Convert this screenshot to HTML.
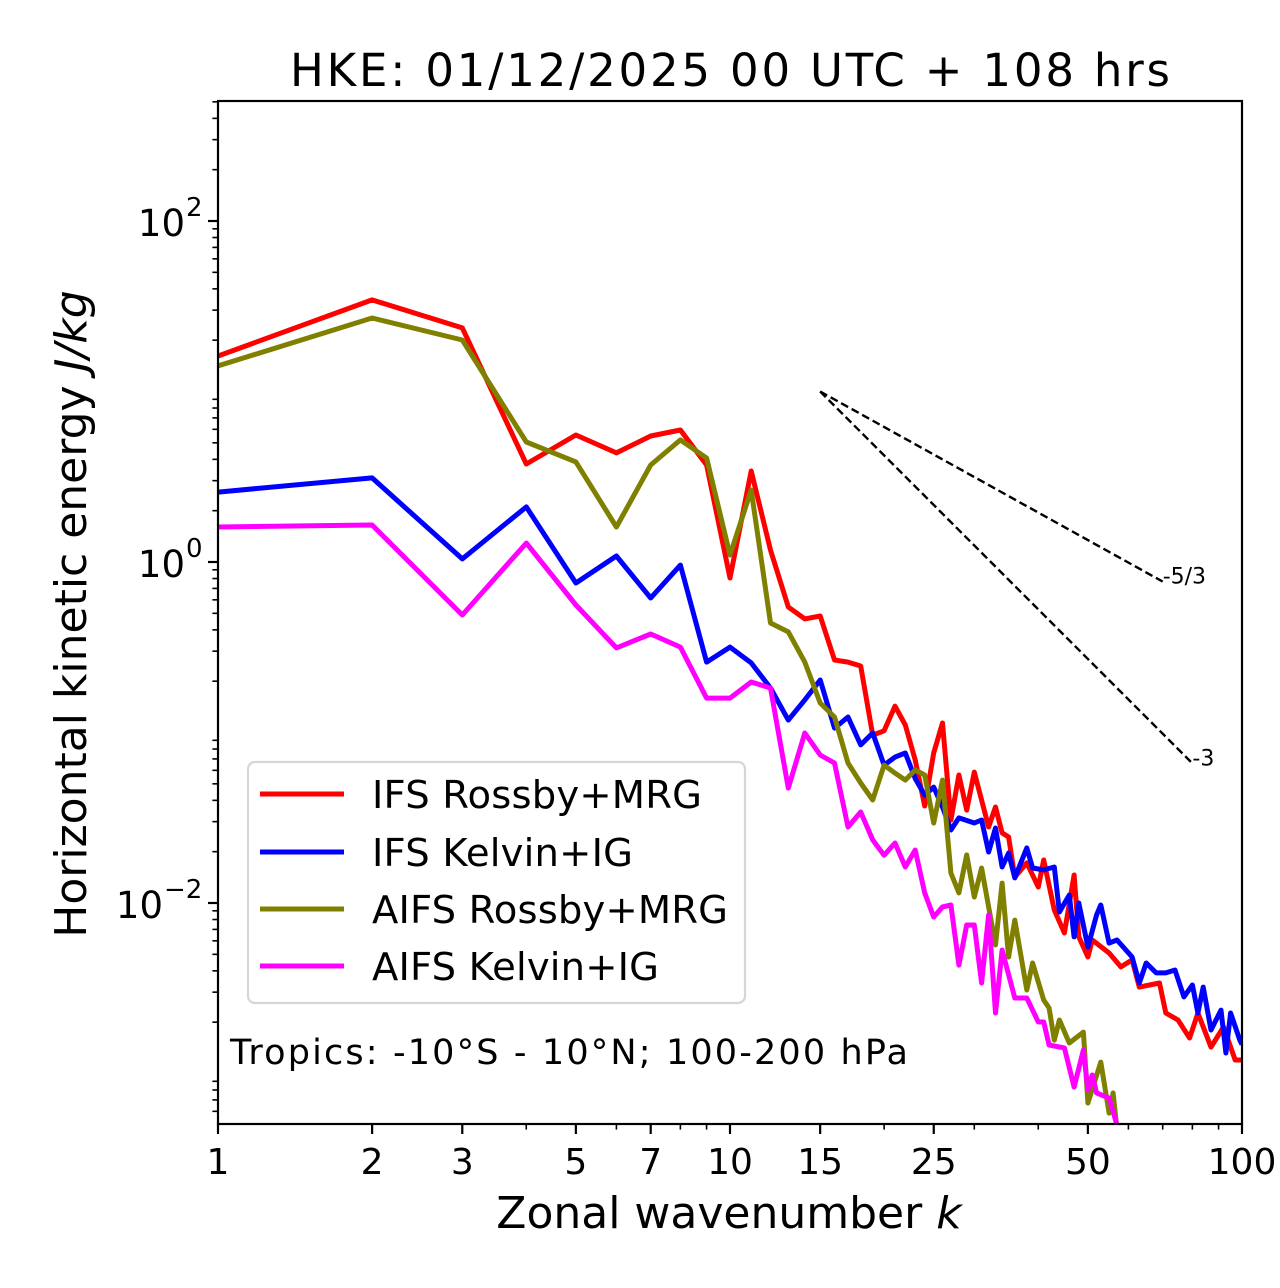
<!DOCTYPE html>
<html><head><meta charset="utf-8"><style>
html,body{margin:0;padding:0;background:#fff;}
svg{display:block;font-family:"DejaVu Sans","Liberation Sans",sans-serif;}
</style></head><body>
<svg id="chart" width="1280" height="1288" viewBox="0 0 1280 1288" xmlns="http://www.w3.org/2000/svg">
<rect width="1280" height="1288" fill="#fff"/>
<text x="730" y="86" font-size="45" text-anchor="middle" textLength="880">HKE: 01/12/2025 00 UTC + 108 hrs</text>
<g id="series"></g>
<g id="axes"></g>
<text x="729" y="1228" font-size="44" text-anchor="middle">Zonal wavenumber <tspan font-style="italic">k</tspan></text>
<text transform="translate(86,614) rotate(-90)" font-size="44" text-anchor="middle">Horizontal kinetic energy <tspan font-style="italic">J/kg</tspan></text>
<g>
<rect x="248" y="762" width="497" height="241" rx="7" fill="#fff" fill-opacity="0.8" stroke="#d6d6d6" stroke-width="2.2"/>
<line x1="260" y1="794" x2="344" y2="794" stroke="#ff0000" stroke-width="5"/>
<text x="372" y="808" font-size="38.5" textLength="330">IFS Rossby+MRG</text>
<line x1="260" y1="852" x2="344" y2="852" stroke="#0000ff" stroke-width="5"/>
<text x="372" y="866" font-size="38.5" textLength="261">IFS Kelvin+IG</text>
<line x1="260" y1="909" x2="344" y2="909" stroke="#808000" stroke-width="5"/>
<text x="372" y="923" font-size="38.5" textLength="356">AIFS Rossby+MRG</text>
<line x1="260" y1="966" x2="344" y2="966" stroke="#ff00ff" stroke-width="5"/>
<text x="372" y="980" font-size="38.5" textLength="287">AIFS Kelvin+IG</text>
</g>
<text x="230" y="1064" font-size="35" textLength="678">Tropics: -10°S - 10°N; 100-200 hPa</text>
</svg>
<script>
// ---- data (log10 of energy in J/kg) ----
const ifsRossbyK = [1,2,3,4,5,6,7,8,9,10,11,12,13,14,15,16,17,18,19,20,21,22,23,24,25,26,27,28,29,30,32,33,34,35,36,38,40,41,43,45,47,48,50,51,55,58,61,63,69,71,75,79,82,87,92,97,100];
const ifsRossbyLogE = [1.208,1.537,1.373,0.575,0.745,0.64,0.739,0.774,0.569,-0.094,0.534,0.07,-0.264,-0.334,-0.317,-0.575,-0.587,-0.61,-1.015,-0.99,-0.845,-0.956,-1.161,-1.431,-1.12,-0.944,-1.513,-1.249,-1.455,-1.232,-1.554,-1.437,-1.589,-1.613,-1.848,-1.765,-1.906,-1.748,-2.041,-2.176,-1.836,-2.199,-2.317,-2.217,-2.293,-2.375,-2.334,-2.493,-2.469,-2.645,-2.686,-2.792,-2.645,-2.845,-2.727,-2.921,-2.921];
const ifsKelvinK = [1,2,3,4,5,6,7,8,9,10,11,12,13,14,15,16,17,18,19,20,21,22,23,24,25,26,27,28,30,31,32,33,34,35,36,38,39,41,43,44,46,47,48,50,52,53,55,57,61,63,65,68,71,74,77,80,82,84,87,91,93,95,99,100];
const ifsKelvinLogE = [0.41,0.493,0.018,0.323,-0.123,0.035,-0.211,-0.018,-0.587,-0.499,-0.592,-0.739,-0.927,-0.809,-0.692,-0.974,-0.909,-1.073,-1.003,-1.191,-1.144,-1.12,-1.27,-1.367,-1.32,-1.437,-1.572,-1.501,-1.531,-1.513,-1.701,-1.56,-1.789,-1.707,-1.853,-1.677,-1.795,-1.806,-1.789,-2.053,-1.953,-2.199,-2.0,-2.258,-2.07,-2.012,-2.235,-2.217,-2.317,-2.469,-2.352,-2.41,-2.41,-2.393,-2.551,-2.481,-2.645,-2.493,-2.745,-2.628,-2.88,-2.645,-2.804,-2.83];
const aifsRossbyK = [1,2,3,4,5,6,7,8,9,10,11,12,13,14,15,16,17,18,19,20,21,22,23,24,25,26,27,28,29,30,31,33,34,35,36,38,39,41,42,43,44,46,49,50,53,55,56,57];
const aifsRossbyLogE = [1.15,1.431,1.302,0.704,0.587,0.205,0.569,0.716,0.61,0.041,0.422,-0.358,-0.41,-0.587,-0.827,-0.909,-1.179,-1.296,-1.396,-1.191,-1.238,-1.279,-1.22,-1.249,-1.531,-1.279,-1.824,-1.941,-1.718,-1.965,-1.795,-2.246,-1.883,-2.317,-2.1,-2.51,-2.352,-2.569,-2.616,-2.804,-2.686,-2.821,-2.757,-3.173,-2.933,-3.232,-3.114,-3.33];
const aifsKelvinK = [1,2,3,4,5,6,7,8,9,10,11,12,13,14,15,16,17,18,19,20,21,22,23,24,25,26,27,28,29,30,31,32,33,34,36,38,40,41,42,45,47,49,50,51,52,55,57];
const aifsKelvinLogE = [0.205,0.217,-0.311,0.111,-0.252,-0.504,-0.422,-0.499,-0.798,-0.798,-0.704,-0.739,-1.326,-1.003,-1.132,-1.179,-1.554,-1.466,-1.63,-1.72,-1.648,-1.789,-1.689,-1.941,-2.082,-2.023,-2.012,-2.364,-2.129,-2.129,-2.469,-2.07,-2.645,-2.276,-2.557,-2.557,-2.698,-2.698,-2.833,-2.85,-3.079,-2.862,-3.097,-3.009,-3.114,-3.144,-3.302];
// reference slopes
const refSlopes = [-5/3, -3];
const refSlopeLabels = ["-5/3", "-3"];
const refStartK = 15;
const refStartE = 10;
const refEndK = [70, 80];
// axis ticks
const xMajorTicks = [1,2,3,5,7,10,15,25,50,100];
const xMajorLabels = ["1","2","3","5","7","10","15","25","50","100"];
const xMinorTicks = [4,6,8,9,20,30,40,60,70,80,90];
const yMajorExp = [2,0,-2];

const L=218,R=1242,T=101,B=1124;
const xMin=0, xMax=2; // log10 k
const yTopLog=2+(221-T)/170.5, yBotLog=-2-(B-903)/170.5;
function xs(k){return L+(Math.log10(k)-xMin)/(xMax-xMin)*(R-L);}
function ysLog(l){return T+(yTopLog-l)/(yTopLog-yBotLog)*(B-T);}
function ys(v){return ysLog(Math.log10(v));}
const NS="http://www.w3.org/2000/svg";
function mk(tag,attrs,parent){const e=document.createElementNS(NS,tag);for(const a in attrs)e.setAttribute(a,attrs[a]);parent.appendChild(e);return e;}
const svg=document.getElementById('chart');
const sg=document.getElementById('series');
const ag=document.getElementById('axes');
const defs=mk('defs',{},svg);
const cp=mk('clipPath',{id:'plotclip'},defs);
mk('rect',{x:L,y:T,width:R-L,height:B-T},cp);
sg.setAttribute('clip-path','url(#plotclip)');

const series=[
 {k:ifsRossbyK,v:ifsRossbyLogE,c:'#ff0000',n:'line-ifs-rossby-mrg'},
 {k:ifsKelvinK,v:ifsKelvinLogE,c:'#0000ff',n:'line-ifs-kelvin-ig'},
 {k:aifsRossbyK,v:aifsRossbyLogE,c:'#808000',n:'line-aifs-rossby-mrg'},
 {k:aifsKelvinK,v:aifsKelvinLogE,c:'#ff00ff',n:'line-aifs-kelvin-ig'}
];
series.forEach(s=>{
  const pts=s.k.map((k,i)=>xs(k).toFixed(1)+','+ysLog(s.v[i]).toFixed(1)).join(' ');
  const p=mk('polyline',{points:pts,fill:'none',stroke:s.c,'stroke-width':5,'stroke-linejoin':'round'},sg);
  
  
});
refSlopes.forEach((sl,i)=>{
  const k2=refEndK[i];
  const e2=refStartE*Math.pow(k2/refStartK,sl);
  const ln=mk('line',{x1:xs(refStartK),y1:ys(refStartE),x2:xs(k2),y2:ys(e2),stroke:'#000','stroke-width':2.4,'stroke-dasharray':'8,4'},svg);
  
  
  const t=mk('text',{x:xs(k2),y:ys(e2)+2,'font-size':22},svg);
  t.textContent=refSlopeLabels[i];
  
  
});
const fr=mk('rect',{x:L,y:T,width:R-L,height:B-T,fill:'none',stroke:'#000','stroke-width':2.2},ag);


xMajorTicks.forEach((k,i)=>{
  const x=xs(k);
  mk('line',{x1:x,y1:B,x2:x,y2:B+10,stroke:'#000','stroke-width':2.2},ag);
  const t=mk('text',{x:x,y:B+50,'font-size':36,'text-anchor':'middle'},ag);
  t.textContent=xMajorLabels[i];
  
  
});
xMinorTicks.forEach(k=>{const x=xs(k);mk('line',{x1:x,y1:B,x2:x,y2:B+5.6,stroke:'#000','stroke-width':1.6},ag);});
yMajorExp.forEach(e=>{
  const y=ysLog(e);
  const shift=e<0?22:0;
  mk('line',{x1:L-10,y1:y,x2:L,y2:y,stroke:'#000','stroke-width':2.2},ag);
  const t=mk('text',{x:L-33-shift,y:y+15,'font-size':37,'text-anchor':'end'},ag);
  t.textContent='10';
  
  
  const s=mk('text',{x:L-32-shift,y:y-5,'font-size':26,'text-anchor':'start'},ag);
  s.textContent=e<0?'\u2212'+(-e):String(e);
  
  
});
for(let d=-4;d<=2;d++){
  for(let m=2;m<=9;m++){
    const l=d+Math.log10(m);
    if(l<yBotLog||l>yTopLog)continue;
    const y=ysLog(l);
    mk('line',{x1:L-5.6,y1:y,x2:L,y2:y,stroke:'#000','stroke-width':1.6},ag);
  }
}
</script>
</body></html>
